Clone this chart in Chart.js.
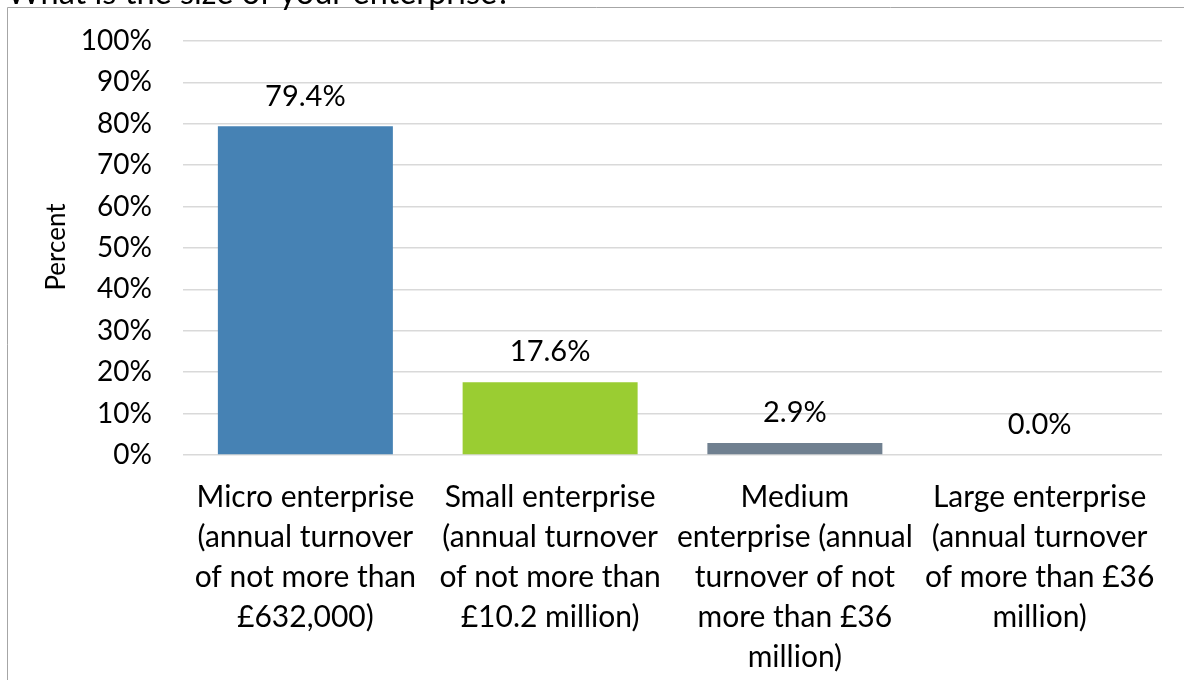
<!DOCTYPE html>
<html>
<head>
<meta charset="utf-8">
<script src="https://cdn.jsdelivr.net/npm/chart.js@4"></script>
<style>
  html, body { margin: 0; padding: 0; background: #fff; }
  #wrap { width: 1184px; height: 680px; position: relative; }
</style>
</head>
<body>
<div id="wrap"><canvas id="chart" width="1184" height="680"></canvas></div>
<script>
const chartTitle = "What is the size of your enterprise?";
const categories = [
  ["Micro enterprise", "(annual turnover", "of not more than", "£632,000)"],
  ["Small enterprise", "(annual turnover", "of not more than", "£10.2 million)"],
  ["Medium", "enterprise (annual", "turnover of not", "more than £36", "million)"],
  ["Large enterprise", "(annual turnover", "of more than £36", "million)"]
];
const percentValues = [79.4, 17.6, 2.9, 0.0];
const barColors = ["#4682B4", "#9ACD32", "#708090", "#FFA500"];
const yTicks = [0, 10, 20, 30, 40, 50, 60, 70, 80, 90, 100];

const FONT = "Lato, 'Open Sans', sans-serif";

// frame, cut-off title, y axis title and value labels
const decorations = {
  id: "decorations",
  beforeDraw(chart) {
    const ctx = chart.ctx;
    ctx.save();
    ctx.strokeStyle = "#a6a6a6";
    ctx.lineWidth = 1;
    ctx.beginPath();
    ctx.moveTo(7.5, 690);
    ctx.lineTo(7.5, 7.5);
    ctx.lineTo(1200, 7.5);
    ctx.stroke();

    ctx.fillStyle = "#000";
    ctx.font = "32.5px " + FONT;
    ctx.textAlign = "left";
    ctx.textBaseline = "alphabetic";
    ctx.fillText(chartTitle, 7, 4);

    ctx.translate(57, 247);
    ctx.rotate(-Math.PI / 2);
    ctx.font = "26px " + FONT;
    ctx.textAlign = "center";
    ctx.textBaseline = "middle";
    ctx.fillText("Percent", 0, 0);
    ctx.restore();
  },
  afterDatasetsDraw(chart) {
    const ctx = chart.ctx;
    const meta = chart.getDatasetMeta(0);
    ctx.save();
    ctx.fillStyle = "#000";
    ctx.font = "29px " + FONT;
    ctx.textAlign = "center";
    ctx.textBaseline = "middle";
    meta.data.forEach((bar, i) => {
      ctx.fillText(percentValues[i].toFixed(1) + "%", bar.x, bar.y - 30);
    });
    ctx.restore();
  }
};

new Chart(document.getElementById("chart"), {
  type: "bar",
  data: {
    labels: categories,
    datasets: [{
      data: percentValues,
      backgroundColor: barColors,
      barPercentage: 0.715,
      categoryPercentage: 1.0
    }]
  },
  options: {
    responsive: false,
    animation: false,
    devicePixelRatio: 1,
    layout: { padding: { top: 41, right: 22, left: 0, bottom: 0 } },
    plugins: {
      legend: { display: false },
      tooltip: { enabled: false }
    },
    scales: {
      x: {
        grid: { display: false },
        border: { display: false },
        ticks: {
          color: "#000",
          font: { family: FONT, size: 30, lineHeight: "40px" },
          padding: 14,
          maxRotation: 0,
          autoSkip: false
        },
        afterFit: s => { s.height = 225; }
      },
      y: {
        min: 0,
        max: 100,
        afterBuildTicks: s => { s.ticks = yTicks.map(v => ({ value: v })); },
        // invisible ticks give the gap between labels and plot
        grid: { color: "#d9d9d9", lineWidth: 1.5, drawTicks: true, tickLength: 31, tickColor: "rgba(0,0,0,0)" },
        border: { display: false },
        ticks: {
          color: "#000",
          font: { family: FONT, size: 28 },
          padding: 0,
          callback: v => v + "%"
        },
        afterFit: s => { s.width = 183; }
      }
    }
  },
  plugins: [decorations]
});
</script>
</body>
</html>
